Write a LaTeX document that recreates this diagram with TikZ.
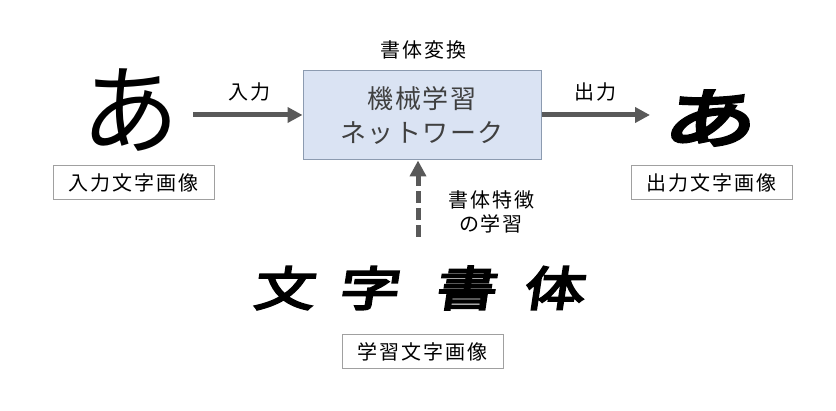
\documentclass[tikz,border=0pt]{standalone}
\usepackage{fontspec}
\newfontfamily\jp{Noto Sans CJK JP}
\newfontfamily\jpsp{Noto Sans CJK JP}[LetterSpace=10]
\newfontfamily\jpbox{Noto Sans CJK JP}[LetterSpace=6]
\newfontfamily\jpheavy{Noto Sans CJK JP}[FakeBold=4.5,FakeSlant=0.15,FakeStretch=1.3]
\newfontfamily\jpout{Noto Sans CJK JP}[FakeBold=6,FakeSlant=0.15,FakeStretch=1.45]
\usetikzlibrary{arrows.meta}
\definecolor{arrowgray}{HTML}{595959}
\definecolor{boxfill}{HTML}{DAE3F3}
\definecolor{boxline}{HTML}{8C9BB0}
\definecolor{labline}{HTML}{A0A0A0}
\definecolor{boxtext}{HTML}{404040}
\tikzset{
  thickarrow/.style={draw=arrowgray, line width=5pt, -{Triangle[length=15pt,width=15pt]}},
  labelbox/.style={draw=labline, line width=1pt, fill=white, inner sep=0pt, minimum width=161pt, minimum height=34pt, font=\jpsp\fontsize{20}{24}\selectfont},
  smalllabel/.style={font=\jpsp\fontsize{20}{24}\selectfont, inner sep=0pt},
  heavychar/.style={inner sep=0pt, font=\jpheavy\fontsize{47}{47}\selectfont},
}
\begin{document}
\begin{tikzpicture}[x=1pt,y=-1pt]
\useasboundingbox (0,0) rectangle (836,411);
% input glyph
\node[inner sep=0pt, font=\jp\fontsize{98}{98}\selectfont] (inglyph) at (130,110) {あ};
\node[labelbox] (inlabel) at (133.5,182.5) {入力文字画像};
% network box
\node[draw=boxline, line width=1pt, fill=boxfill, minimum width=238pt, minimum height=89pt, inner sep=0pt, align=center, text=boxtext, font=\jpbox\fontsize{26}{34}\selectfont] (net) at (422,115.5) {機械学習\\ネットワーク};
\node[smalllabel] (conv) at (423,50) {書体変換};
% output glyph
\node[inner sep=0pt, font=\jpout\fontsize{64}{64}\selectfont] (outglyph) at (708,118) {あ};
\node[labelbox] (outlabel) at (711.5,182.5) {出力文字画像};
% arrows
\coordinate (instart) at (193,115);
\draw[thickarrow] (instart) -- (net.west |- instart);
\node[smalllabel] (inlab) at (249,92) {入力};
\coordinate (outend) at (650,115);
\draw[thickarrow] (net.east |- outend) -- (outend);
\node[smalllabel] (outlab) at (595,92) {出力};
% training font
\node[heavychar] (c1) at (283,288) {文};
\node[heavychar] (c2) at (368,288) {字};
\node[heavychar] (c3) at (465,288) {書};
\node[heavychar] (c4) at (553,288) {体};
\node[labelbox] (trainlabel) at (422.5,351.5) {学習文字画像};
% dashed arrow
\coordinate (dstart) at (418,237);
\draw[draw=arrowgray, line width=5pt, dash pattern=on 12pt off 5pt] (dstart) -- (418,178);
\draw[draw=arrowgray, line width=5pt, -{Triangle[length=16pt,width=16pt]}] (418,180) -- (net.south -| dstart);
\node[smalllabel, align=center] (feat) at (491,212) {書体特徴\\の学習};
\end{tikzpicture}
\end{document}
